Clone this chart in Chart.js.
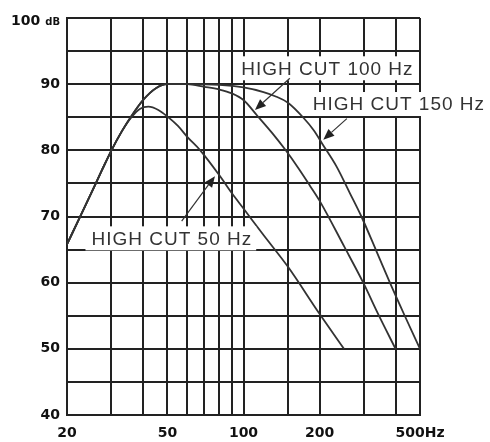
<!DOCTYPE html>
<html>
<head>
<meta charset="utf-8">
<script src="https://cdn.jsdelivr.net/npm/chart.js@4.4.1/dist/chart.umd.min.js"></script>
<style>
  body { margin: 0; background: #fff; }
  #wrap { width: 490px; height: 442px; }
</style>
</head>
<body>
<div id="wrap"><canvas id="myChart"></canvas></div>
<script>
// response curves, freq in Hz / level in dB
const freq50 = [20, 22.5, 25, 27.5, 30, 33, 36, 39, 42, 46, 50, 55, 60, 67.4, 80, 90, 100, 120, 150, 200, 250];
const db50 = [65.8, 69.9, 73.6, 77, 80, 82.9, 85, 86.3, 86.6, 86.1, 85.1, 83.7, 82, 80, 76.3, 73.5, 71.2, 67.2, 62.4, 55.3, 50];

const freq100 = [20, 22.5, 25, 27.5, 30, 33, 36, 40, 45, 50, 60, 70, 80, 90, 100, 113, 130, 147, 165, 183, 200, 251, 298, 340, 400];
const db100 = [65.8, 69.9, 73.6, 77, 80, 82.9, 85.2, 87.6, 89.4, 90, 90, 89.6, 89.2, 88.6, 87.6, 85.3, 82.6, 80, 77.3, 74.7, 72.4, 65.4, 60, 55.4, 50];

const freq150 = [20, 22.5, 25, 27.5, 30, 33, 36, 40, 45, 50, 60, 80, 100, 120, 135, 150, 172, 190, 205, 234, 264, 293, 334, 380, 435, 500];
const db150 = [65.8, 69.9, 73.6, 77, 80, 82.9, 85.2, 87.6, 89.4, 90, 90, 89.9, 89.5, 88.8, 88.1, 87.2, 85, 83, 81, 77.5, 73.5, 70, 65, 60, 55, 50];

const xGrid = [20, 30, 40, 50, 60, 70, 80, 90, 100, 150, 200, 300, 400, 500];
const xLabels = { 20: '20', 50: '50', 100: '100', 200: '200', 500: '500Hz' };
const yLabels = [40, 50, 60, 70, 80, 90];

// label text, its spot (freq, dB) and arrow tail -> tip
const noteText = ['HIGH CUT 50 Hz', 'HIGH CUT 100 Hz', 'HIGH CUT 150 Hz'];
const notePos = [[25, 66.7], [98, 92.4], [188, 87.0]];
const arrowFrom = [[56.9, 69.3], [152.6, 90.9], [256.6, 84.8]];
const arrowTo = [[77.1, 76.1], [111, 86.1], [207, 81.6]];

const pts = (xs, ys) => xs.map((x, i) => ({ x: x, y: ys[i] }));

const lineCol = '#222';

const notes = {
  id: 'notes',
  afterDatasetsDraw(chart) {
    const ctx = chart.ctx;
    const xs = chart.scales.x, ys = chart.scales.y;
    ctx.save();
    ctx.font = '19px "Liberation Sans", Arial, sans-serif';
    ctx.letterSpacing = '1px';
    ctx.textBaseline = 'middle';
    ctx.textAlign = 'left';
    noteText.forEach((t, i) => {
      const px = xs.getPixelForValue(notePos[i][0]);
      const py = ys.getPixelForValue(notePos[i][1]);
      const w = ctx.measureText(t).width;
      ctx.fillStyle = '#fff';
      ctx.fillRect(px - 6, py - 12, w + 10, 24);
      ctx.fillStyle = '#333';
      ctx.fillText(t, px, py + 1);
    });
    ctx.letterSpacing = '0px';

    // arrows
    ctx.strokeStyle = '#333';
    ctx.fillStyle = '#222';
    ctx.lineWidth = 1.2;
    arrowFrom.forEach((a, i) => {
      const x0 = xs.getPixelForValue(a[0]), y0 = ys.getPixelForValue(a[1]);
      const x1 = xs.getPixelForValue(arrowTo[i][0]), y1 = ys.getPixelForValue(arrowTo[i][1]);
      const ang = Math.atan2(y1 - y0, x1 - x0);
      const len = 11, half = 4.5;
      const bx = x1 - len * Math.cos(ang), by = y1 - len * Math.sin(ang);
      ctx.beginPath();
      ctx.moveTo(x0, y0);
      ctx.lineTo(bx, by);
      ctx.stroke();
      ctx.beginPath();
      ctx.moveTo(x1, y1);
      ctx.lineTo(bx + half * Math.sin(ang), by - half * Math.cos(ang));
      ctx.lineTo(bx - half * Math.sin(ang), by + half * Math.cos(ang));
      ctx.closePath();
      ctx.fill();
    });

    // "100 dB" top label
    const yTop = ys.getPixelForValue(100);
    const right = ys.right - 7;
    ctx.fillStyle = '#111';
    ctx.textBaseline = 'alphabetic';
    ctx.textAlign = 'right';
    ctx.font = 'bold 10px "DejaVu Sans", sans-serif';
    const dbW = ctx.measureText('dB').width;
    ctx.fillText('dB', right, yTop + 7);
    ctx.font = 'bold 14px "DejaVu Sans", sans-serif';
    ctx.fillText('100', right - dbW - 5, yTop + 7);
    ctx.restore();
  }
};

const curve = (data) => ({
  data: data,
  borderColor: '#333',
  borderWidth: 1.8,
  pointRadius: 0,
  fill: false,
  cubicInterpolationMode: 'monotone',
  showLine: true
});

new Chart(document.getElementById('myChart').getContext('2d'), {
  type: 'scatter',
  data: {
    datasets: [
      curve(pts(freq50, db50)),
      curve(pts(freq100, db100)),
      curve(pts(freq150, db150))
    ]
  },
  options: {
    responsive: true,
    maintainAspectRatio: false,
    animation: false,
    layout: { padding: { top: 18, right: 70, left: 0, bottom: 0 } },
    plugins: { legend: { display: false }, tooltip: { enabled: false } },
    scales: {
      x: {
        type: 'logarithmic',
        min: 20,
        max: 500,
        afterBuildTicks: (scale) => { scale.ticks = xGrid.map(v => ({ value: v })); },
        afterFit: (scale) => { scale.height = 27; },
        ticks: {
          autoSkip: false,
          maxRotation: 0,
          padding: 10,
          color: '#111',
          font: { family: 'DejaVu Sans', weight: 'bold', size: 14 },
          callback: (v) => xLabels[v] || ''
        },
        grid: { color: lineCol, lineWidth: 2, drawTicks: false },
        border: { color: lineCol, width: 2 }
      },
      y: {
        min: 40,
        max: 100,
        ticks: {
          stepSize: 5,
          padding: 7,
          color: '#111',
          font: { family: 'DejaVu Sans', weight: 'bold', size: 14 },
          callback: (v) => yLabels.includes(v) ? String(v) : ''
        },
        afterFit: (scale) => { scale.width = 67; },
        grid: { color: lineCol, lineWidth: 2, drawTicks: false },
        border: { color: lineCol, width: 2 }
      }
    }
  },
  plugins: [notes]
});
</script>
</body>
</html>
